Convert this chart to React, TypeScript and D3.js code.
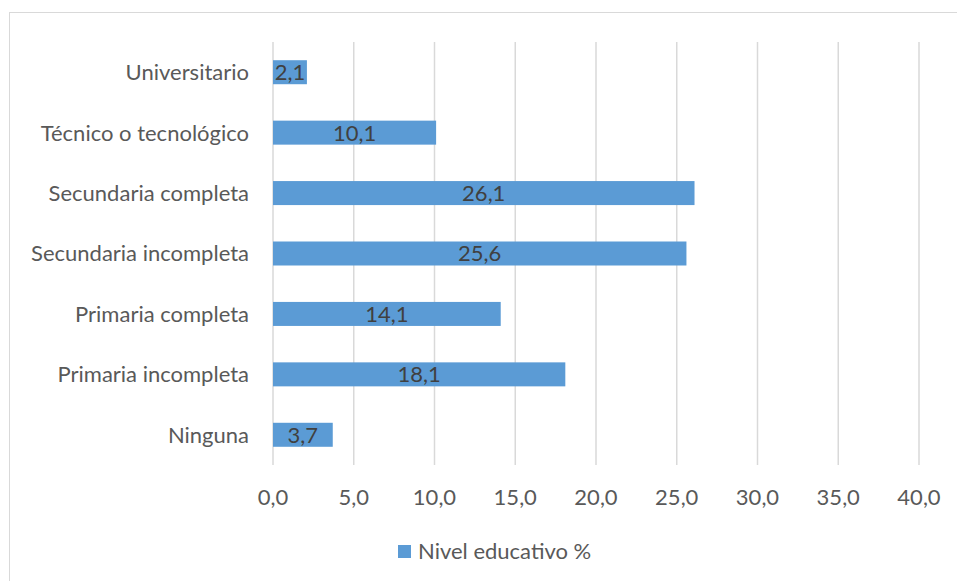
import React from "react";
import * as d3 from "d3";

const categories = [
  "Universitario",
  "Técnico o tecnológico",
  "Secundaria completa",
  "Secundaria incompleta",
  "Primaria completa",
  "Primaria incompleta",
  "Ninguna",
];
const values = [2.1, 10.1, 26.1, 25.6, 14.1, 18.1, 3.7];
const ticks = [0, 5, 10, 15, 20, 25, 30, 35, 40];
const seriesName = "Nivel educativo %";

const W = 957;
const H = 581;
const FONT = "Lato, 'Open Sans', sans-serif";
const FS = 22;
const fmt = (v: number) => v.toFixed(1).replace(".", ",");

export default function App() {
  const x = d3.scaleLinear().domain([0, 40]).range([273, 919]);
  const band = d3.scaleBand().domain(categories).range([42, 465]);
  const bh = 24;
  return (
    <svg width={W} height={H} style={{ position: "absolute", left: 0, top: 0 }}>
      <rect x={0} y={0} width={W} height={H} fill="#fff" />
      <rect x={9.5} y={12.5} width={W + 20} height={H + 20} fill="none" stroke="#D9D9D9" strokeWidth={1} />
      {ticks.map((t) => (
        <line key={t} x1={x(t)} x2={x(t)} y1={42} y2={465} stroke="#D9D9D9" strokeWidth={1.5} />
      ))}
      {categories.map((c, i) => {
        const cy = (band(c) as number) + band.bandwidth() / 2;
        return (
          <g key={c}>
            <rect x={x(0)} y={cy - bh / 2} width={x(values[i]) - x(0)} height={bh} fill="#5B9BD5" />
            <text
              x={(x(0) + x(values[i])) / 2}
              y={cy}
              dy="0.36em"
              textAnchor="middle"
              fontFamily={FONT}
              fontSize={FS}
              fill="#404040"
            >
              {fmt(values[i])}
            </text>
            <text x={249} y={cy} dy="0.36em" textAnchor="end" fontFamily={FONT} fontSize={FS} fill="#595959">
              {c}
            </text>
          </g>
        );
      })}
      {ticks.map((t) => (
        <text key={"t" + t} x={x(t)} y={497} dy="0.36em" textAnchor="middle" fontFamily={FONT} fontSize={FS} fill="#595959">
          {fmt(t)}
        </text>
      ))}
      <rect x={398} y={545} width={13} height={13} fill="#5B9BD5" />
      <text x={418} y={551} dy="0.36em" fontFamily={FONT} fontSize={FS} fill="#595959">
        {seriesName}
      </text>
    </svg>
  );
}
